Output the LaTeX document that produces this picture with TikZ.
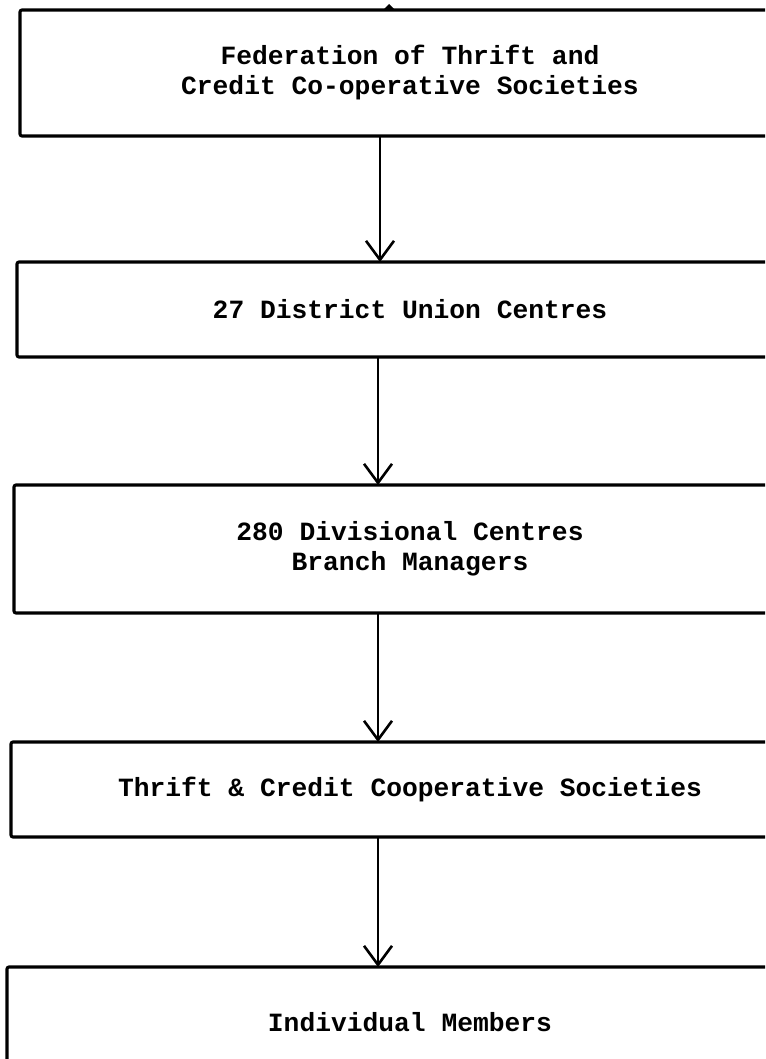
\documentclass[tikz,border=0pt]{standalone}
\usepackage{fontspec}
\setmonofont{Liberation Mono}
\usetikzlibrary{arrows.meta}
\begin{document}
\begin{tikzpicture}[x=1pt,y=-1pt,
  stage/.style={draw=black, line width=3.1pt, rounded corners=2pt,
    inner sep=0pt, outer sep=0pt, align=center,
    font=\ttfamily\bfseries\fontsize{26.3}{30}\selectfont},
  flow/.style={line width=2.1pt,
    -{Straight Barb[length=19pt,width=28pt,line width=2.6pt]}}]
\useasboundingbox (0,0) rectangle (765,1059);
\clip (0,0) rectangle (765,1059);

% the five levels, each running off the right-hand edge
\node[stage, minimum width=780pt, minimum height=126pt] (fed) at (410,73)
  {Federation of Thrift and\\Credit Co-operative Societies};
\node[stage, minimum width=786pt, minimum height=95pt] (duc) at (410,309.5)
  {27 District Union Centres};
\node[stage, minimum width=792pt, minimum height=128pt] (div) at (410,549)
  {280 Divisional Centres\\Branch Managers};
\node[stage, minimum width=798pt, minimum height=95pt] (soc) at (410,789.5)
  {Thrift \& Credit Cooperative Societies};
\node[stage, minimum width=806pt, minimum height=110pt] (mem) at (410,1022)
  {Individual Members};

% tip of the incoming arrow on top of the federation box
\fill (383,10) -- (389,4) -- (395,10) -- cycle;

% downward links
\coordinate (ax) at (380,0);
\coordinate (bx) at (378,0);
\draw[flow] (fed.south -| ax) -- (duc.north -| ax);
\draw[flow] (duc.south -| bx) -- (div.north -| bx);
\draw[flow] (div.south -| bx) -- (soc.north -| bx);
\draw[flow] (soc.south -| bx) -- (mem.north -| bx);
\end{tikzpicture}
\end{document}
